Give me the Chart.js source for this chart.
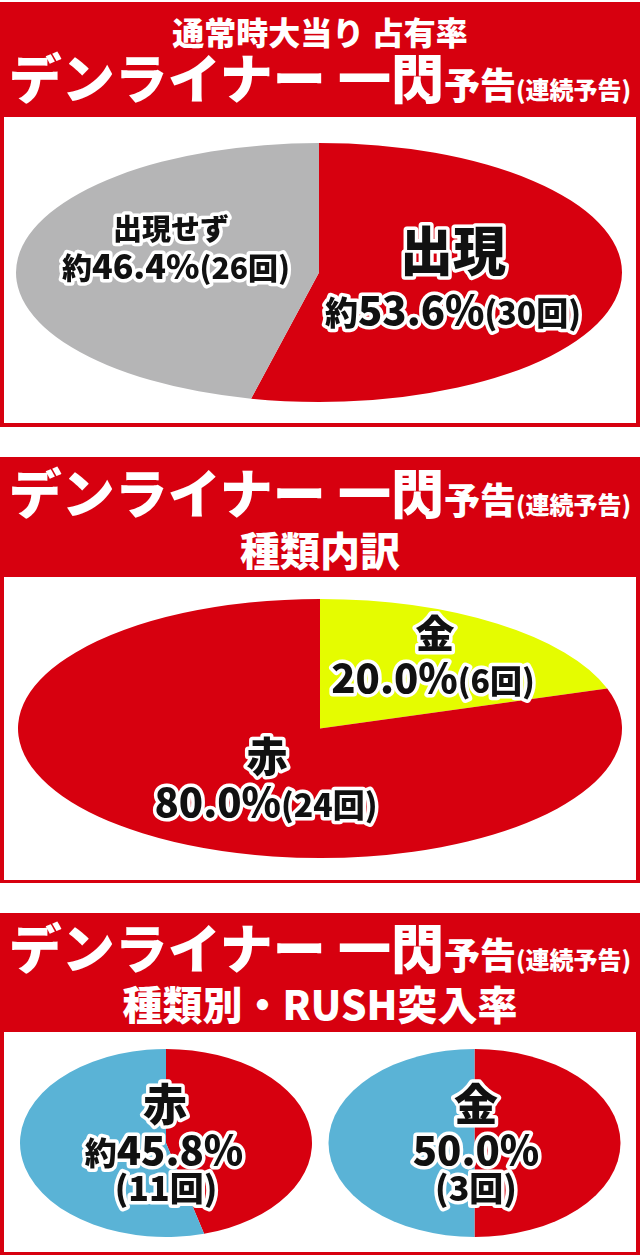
<!DOCTYPE html>
<html><head><meta charset="utf-8">
<script src="https://cdn.jsdelivr.net/npm/chart.js@4.4.1/dist/chart.umd.min.js"></script>
<style>
body{margin:0;width:640px;height:1255px;background:#fff;position:relative;overflow:hidden;font-family:"Noto Sans CJK JP","Noto Sans CJK SC",sans-serif;}
.panel{position:absolute;left:0;width:640px;background:#d7000f;}
.box{position:absolute;left:4px;width:632px;background:#fff;}
.t{position:absolute;left:0;width:640px;text-align:center;color:#fff;font-weight:900;white-space:nowrap;}
canvas{position:absolute;}
</style></head><body>
<div class="panel" style="top:2px;height:425px"></div>
<div class="box" style="top:117px;height:306px"></div>
<div class="panel" style="top:457px;height:426px"></div>
<div class="box" style="top:577px;height:303px"></div>
<div class="panel" style="top:913px;height:342px"></div>
<div class="box" style="top:1032px;height:220px"></div>

<div class="t" style="top:15px;font-size:32px;line-height:32px">通常時大当り 占有率</div>
<div class="t" style="top:50px;font-size:53px;line-height:53px">デンライナー 一閃<span style="font-size:36px">予告</span><span style="font-size:24px">(連続予告)</span></div>

<div class="t" style="top:465px;font-size:53px;line-height:53px">デンライナー 一閃<span style="font-size:36px">予告</span><span style="font-size:24px">(連続予告)</span></div>
<div class="t" style="top:529px;font-size:40px;line-height:40px">種類内訳</div>

<div class="t" style="top:920px;font-size:53px;line-height:53px">デンライナー 一閃<span style="font-size:36px">予告</span><span style="font-size:24px">(連続予告)</span></div>
<div class="t" style="top:983px;font-size:40px;line-height:40px">種類別・RUSH突入率</div>

<canvas id="c1" width="632" height="306" style="left:4px;top:117px"></canvas>
<canvas id="c2" width="632" height="303" style="left:4px;top:577px"></canvas>
<canvas id="c3" width="316" height="220" style="left:4px;top:1032px"></canvas>
<canvas id="c4" width="316" height="220" style="left:320px;top:1032px"></canvas>

<script>
// ---- data ----
const occLabels = ['出現', '出現せず'];
const occValues = [53.6, 46.4];
const occCounts = [30, 26];
const occColors = ['#d7000f', '#b5b5b6'];

const typeLabels = ['金', '赤'];
const typeValues = [20.0, 80.0];
const typeCounts = [6, 24];
const typeColors = ['#e5fc00', '#d7000f'];

const rushSeries = ['突入', '非突入'];
const rushRedValues = [45.8, 54.2];
const rushRedCount = 11;
const rushGoldValues = [50.0, 50.0];
const rushGoldCount = 3;
const rushColors = ['#d7000f', '#5ab3d6'];

const FONT = '"Noto Sans CJK JP","Noto Sans CJK SC",sans-serif';
const pct = v => v.toFixed(1) + '%';

function ellipsePlugin(cx, cy, rx, ry) {
  return {
    id: 'ellipse',
    beforeDatasetsDraw(chart) {
      const arc = chart.getDatasetMeta(0).data[0];
      const ctx = chart.ctx;
      ctx.save();
      if (!arc) return;
      const p = arc.getProps(['x', 'y', 'outerRadius'], true);
      ctx.translate(cx, cy);
      ctx.scale(rx / p.outerRadius, ry / p.outerRadius);
      ctx.translate(-p.x, -p.y);
    },
    afterDatasetsDraw(chart) { chart.ctx.restore(); }
  };
}

function labelPlugin(lines) {
  return {
    id: 'lbl',
    afterDraw(chart) {
      const ctx = chart.ctx;
      lines.forEach(line => {
        ctx.save();
        const maxS = Math.max(...line.segs.map(s => s[1]));
        const widths = line.segs.map(([t, s]) => { ctx.font = `900 ${s}px ${FONT}`; return ctx.measureText(t).width; });
        const total = widths.reduce((a, b) => a + b, 0);
        const base = line.y + 0.36 * maxS;
        ctx.textBaseline = 'alphabetic';
        ctx.textAlign = 'left';
        ctx.lineJoin = 'round';
        ctx.strokeStyle = '#fff';
        ctx.lineWidth = 7;
        ctx.fillStyle = '#111';
        ['stroke', 'fill'].forEach(mode => {
          let x = line.x - total / 2;
          line.segs.forEach(([t, s], i) => {
            ctx.font = `900 ${s}px ${FONT}`;
            if (mode === 'stroke') ctx.strokeText(t, x, base); else ctx.fillText(t, x, base);
            x += widths[i];
          });
        });
        ctx.restore();
      });
    }
  };
}

function makePie(id, labels, values, colors, ell, lines) {
  return new Chart(document.getElementById(id), {
    type: 'pie',
    data: { labels, datasets: [{ data: values, backgroundColor: colors, borderWidth: 0, clip: false }] },
    options: {
      responsive: false, animation: false, events: [],
      plugins: { legend: { display: false }, tooltip: { enabled: false } }
    },
    plugins: [ellipsePlugin(...ell), labelPlugin(lines)]
  });
}

const charts = [];
charts.push(makePie('c1', occLabels, occValues, occColors, [315, 155.5, 303, 129.5], [
  { x: 449, y: 135, segs: [[occLabels[0], 53]] },
  { x: 449, y: 194, segs: [['約', 33], [pct(occValues[0]), 40], ['(' + occCounts[0] + '回)', 32]] },
  { x: 167, y: 113, segs: [[occLabels[1], 29]] },
  { x: 172, y: 150, segs: [['約', 30], [pct(occValues[1]), 34], ['(' + occCounts[1] + '回)', 30]] }
]));
charts.push(makePie('c2', typeLabels, typeValues, typeColors, [316, 151.5, 302, 129.5], [
  { x: 431, y: 57, segs: [[typeLabels[0], 39]] },
  { x: 429, y: 102, segs: [[pct(typeValues[0]), 40], ['(' + typeCounts[0] + '回)', 32]] },
  { x: 263, y: 180, segs: [[typeLabels[1], 41]] },
  { x: 262, y: 226, segs: [[pct(typeValues[1]), 40], ['(' + typeCounts[1] + '回)', 32]] }
]));
charts.push(makePie('c3', rushSeries, rushRedValues, rushColors, [162, 111, 146, 94], [
  { x: 161, y: 73, segs: [['赤', 44]] },
  { x: 160, y: 119, segs: [['約', 32], [pct(rushRedValues[0]), 40]] },
  { x: 162, y: 157, segs: [['(' + rushRedCount + '回)', 34]] }
]));
charts.push(makePie('c4', rushSeries, rushGoldValues, rushColors, [154.5, 111, 146, 94], [
  { x: 156, y: 73, segs: [['金', 44]] },
  { x: 156, y: 119, segs: [[pct(rushGoldValues[0]), 40]] },
  { x: 156, y: 157, segs: [['(' + rushGoldCount + '回)', 34]] }
]));
if (document.fonts && document.fonts.ready) document.fonts.ready.then(() => charts.forEach(c => c.draw()));
</script>
</body></html>
